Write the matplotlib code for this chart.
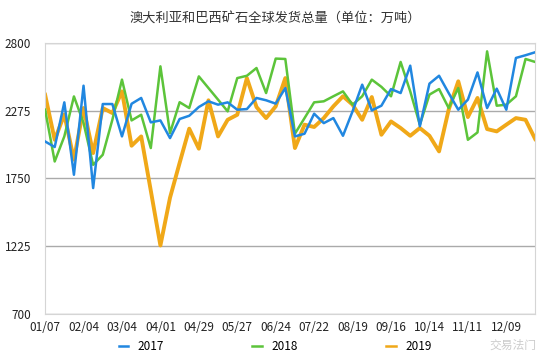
import matplotlib.pyplot as plt
import numpy as np
from matplotlib.lines import Line2D

plt.rcParams['font.family'] = ['Noto Sans CJK SC', 'DejaVu Sans']

# weekly labels, one every 4 weeks
tick_labels = ['01/07', '02/04', '03/04', '04/01', '04/29', '05/27', '06/24',
               '07/22', '08/19', '09/16', '10/14', '11/11', '12/09']

s2017 = [2036, 1993, 2339, 1778, 2468, 1675, 2326, 2326, 2075, 2328,
         2373, 2184, 2199, 2062, 2210, 2235, 2303, 2347, 2321, 2339,
         2282, 2287, 2373, 2355, 2329, 2450, 2075, 2096, 2251, 2178,
         2217, 2080, 2270, 2476, 2277, 2313, 2442, 2411, 2623, 2153,
         2484, 2545, 2411, 2282, 2360, 2571, 2295, 2445, 2282, 2683,
         2704, 2727]
s2018 = [2282, 1881, 2075, 2385, 2180, 1855, 1933, 2204, 2515, 2199,
         2243, 1985, 2618, 2101, 2340, 2295, 2540, 2450, 2360, 2269,
         2527, 2545, 2605, 2411, 2678, 2675, 2096, 2217, 2339, 2347,
         2386, 2424, 2321, 2386, 2515, 2459, 2386, 2652, 2424, 2166,
         2399, 2442, 2295, 2450, 2049, 2106, 2734, 2313, 2321, 2386,
         2675, 2652]
s2019 = [2398, 2049, 2245, 1895, 2295, 1946, 2295, 2256, 2424, 2003,
         2075, 1655, 1230, 1600, 1870, 2135, 1980, 2355, 2075, 2204,
         2243, 2527, 2303, 2217, 2308, 2527, 1985, 2166, 2148, 2217,
         2308, 2386, 2321, 2204, 2380, 2088, 2191, 2140, 2080, 2140,
         2080, 1959, 2282, 2502, 2225, 2373, 2132, 2114, 2166, 2217,
         2204, 2055]

colors = ['#2187e0', '#5cc43a', '#f0a818']
x = np.arange(len(s2017))

fig = plt.figure(figsize=(5.5, 3.6), dpi=100)
ax = fig.add_axes([0.082, 0.128, 0.891, 0.753])

ax.plot(x, s2017, color=colors[0], lw=1.8, zorder=4)
ax.plot(x, s2018, color=colors[1], lw=1.8, zorder=3)
ax.plot(x, s2019, color=colors[2], lw=2.8, zorder=2)

ax.set_xlim(0, len(x) - 1)
ax.set_ylim(700, 2800)
ax.set_yticks([700, 1225, 1750, 2275, 2800])
ax.set_xticks(np.arange(0, len(x), 4))
ax.set_xticklabels(tick_labels)
ax.tick_params(length=0, labelsize=8.5, colors='#222222')
ax.tick_params(axis='y', pad=10)
ax.tick_params(axis='x', pad=5)
ax.grid(axis='y', color='#aaaaaa', lw=1)
for sp in ax.spines.values():
    sp.set_color('#d5d5d5')

fig.suptitle('澳大利亚和巴西矿石全球发货总量（单位：万吨）', fontsize=9.5,
             y=0.965, color='#333333')

handles = [Line2D([], [], color=c, lw=1.8) for c in colors]
fig.legend(handles, ['2017', '2018', '2019'], loc='lower center', ncol=3,
           frameon=False, fontsize=8.5, handlelength=0.8, columnspacing=7.5,
           bbox_to_anchor=(0.5, -0.01))

fig.text(0.975, 0.03, '交易法门', fontsize=8.5, color='#cccccc', ha='right')

fig.savefig('out.png')
